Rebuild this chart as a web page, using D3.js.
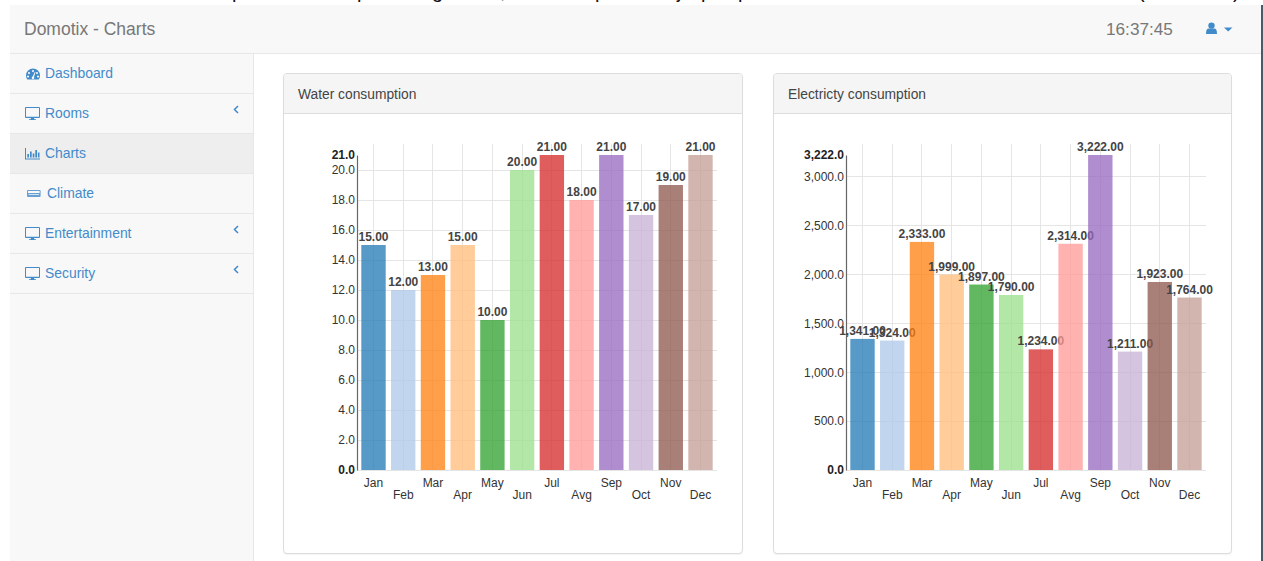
<!DOCTYPE html>
<html>
<head>
<meta charset="utf-8">
<title>Domotix - Charts</title>
<script src="https://cdn.jsdelivr.net/npm/d3@7/dist/d3.min.js"></script>
<style>
  html, body { margin: 0; padding: 0; background: #fff; width: 1263px; height: 561px; overflow: hidden;
    font-family: "Liberation Sans", Arial, sans-serif; font-size: 14px; color: #333; }
  .abs { position: absolute; box-sizing: border-box; }
  #headline { left: 0; top: 0; width: 1261px; height: 5px; overflow: hidden; }
  #headline span { position: absolute; top: -20px; font-size: 20px; line-height: 23px; color: #111; }
  #edge { left: 1261px; top: 5px; width: 2px; height: 556px; background: #4a5a68; }
  #navbar { left: 10px; top: 5px; width: 1251px; height: 49px; background: #f8f8f8; border-bottom: 1px solid #e7e7e7; }
  #brand { left: 24px; top: 19px; font-size: 17.5px; line-height: 20px; color: #777; }
  #clock { left: 1106px; top: 19px; font-size: 17.2px; line-height: 20px; color: #777; }
  #sidebar { left: 10px; top: 54px; width: 244px; height: 507px; background: #f8f8f8; border-right: 1px solid #e7e7e7; }
  .item { left: 10px; width: 243px; height: 40px; border-bottom: 1px solid #e7e7e7; }
  .item.active { background: #eee; }
  .label { position: absolute; top: 11px; line-height: 17px; color: #428bca; font-size: 13.9px; }
  .panel { top: 73px; height: 481px; background: #fff; border: 1px solid #ddd; border-radius: 4px; box-shadow: 0 1px 1px rgba(0,0,0,.05); }
  .panel h3 { margin: 0; height: 40px; background: #f5f5f5; border-bottom: 1px solid #ddd; border-radius: 3px 3px 0 0;
    font-weight: normal; font-size: 13.8px; line-height: 41px; padding-left: 14px; color: #444; box-sizing: border-box; }
  svg.icon { position: absolute; fill: #428bca; stroke: none; overflow: visible; }
  #charts { left: 0; top: 0; }
  .tick text { font-family: "Liberation Sans", Arial, sans-serif; font-size: 12px; fill: #333; }
  .grid line { stroke: #e5e5e5; stroke-width: 1; shape-rendering: crispEdges; }
  .value { font: bold 12px "Liberation Sans", Arial, sans-serif; fill: #444; text-anchor: middle; }
</style>
</head>
<body>
<div class="abs" id="headline">
  <span style="left:232px">p</span><span style="left:357px">p</span><span style="left:432px">g</span>
  <span style="left:500px">,</span><span style="left:595px">p</span><span style="left:677px">j</span>
  <span style="left:701px">p</span><span style="left:738px">p</span><span style="left:1138px">(</span>
  <span style="left:1233px">)</span>
</div>
<div class="abs" id="edge"></div>
<div class="abs" id="navbar"></div>
<div class="abs" id="brand">Domotix - Charts</div>
<div class="abs" id="clock">16:37:45</div>
<svg class="icon" style="left:1206px;top:22px" width="28" height="14">
  <circle cx="5.5" cy="3.6" r="3.2"/><path d="M0 12 Q0 6.4 3 6.6 L8 6.6 Q11 6.4 11 12 L0 12Z"/>
  <path d="M18 5.5 L26.5 5.5 L22.2 9.5Z"/>
</svg>
<div class="abs" id="sidebar"></div>
<div id="menu"></div>

<div class="abs panel" style="left:283px;width:460px"><h3>Water consumption</h3></div>
<div class="abs panel" style="left:773px;width:459px"><h3 style="padding-left:14px">Electricty consumption</h3></div>
<svg class="abs" id="charts" width="1263" height="561"></svg>

<script>
// Monthly readings shown in the two panels
const months = ["Jan", "Feb", "Mar", "Apr", "May", "Jun", "Jul", "Avg", "Sep", "Oct", "Nov", "Dec"];
const waterValues = [15, 12, 13, 15, 10, 20, 21, 18, 21, 17, 19, 21];
const electricityValues = [1341, 1324, 2333, 1999, 1897, 1790, 1234, 2314, 3222, 1211, 1923, 1764];
const waterTicks = [0, 2, 4, 6, 8, 10, 12, 14, 16, 18, 20, 21];
const electricityTicks = [0, 500, 1000, 1500, 2000, 2500, 3000, 3222];
const barColors = ["#1f77b4", "#aec7e8", "#ff7f0e", "#ffbb78", "#2ca02c", "#98df8a",
                   "#d62728", "#ff9896", "#9467bd", "#c5b0d5", "#8c564b", "#c49c94"];

// Sidebar menu
const menuItems = [
  { name: "Dashboard", icon: "gauge", top: 54, x: 45 },
  { name: "Rooms", icon: "desktop", top: 94, x: 45, sub: true },
  { name: "Charts", icon: "bars", top: 134, x: 45, active: true },
  { name: "Climate", icon: "unit", top: 174, x: 47 },
  { name: "Entertainment", icon: "desktop", top: 214, x: 45, sub: true },
  { name: "Security", icon: "desktop", top: 254, x: 45, sub: true }
];
const icons = {
  gauge: `<path fill-rule="evenodd" d="M7 0.5 A7 7 0 0 1 14 7.5 Q14 10 12.6 11.5 L1.4 11.5 Q0 10 0 7.5 A7 7 0 0 1 7 0.5Z M7 2 a1 1 0 1 0 .01 0Z M3 4 a1 1 0 1 0 .01 0Z M11 4 a1 1 0 1 0 .01 0Z M2 7.4 a1 1 0 1 0 .01 0Z M12 7.4 a1 1 0 1 0 .01 0Z M6 9 a1.3 1.3 0 1 0 2 0 L9.5 4.2 L8.8 4 L6.8 8.3Z"/>`,
  desktop: `<path fill-rule="evenodd" d="M1 0 H14 Q15 0 15 1 V10 Q15 11 14 11 H9 L9.4 12.2 H11 V13 H4 V12.2 H5.6 L6 11 H1 Q0 11 0 10 V1 Q0 0 1 0Z M1 1 V9.8 H14 V1Z"/>`,
  bars: `<path d="M0 0 H1 V10.4 H15 V11.4 H0Z M2.3 6 H4 V9.6 H2.3Z M5 3.6 H6.7 V9.6 H5Z M7.7 5.4 H9.4 V9.6 H7.7Z M10.3 2 H12 V9.6 H10.3Z M12.9 4.4 H14.5 V9.6 H12.9Z"/>`,
  unit: `<path fill-rule="evenodd" opacity="0.8" d="M1 0 H12.6 Q13.6 0 13.6 1 V6 Q13.6 7 12.6 7 H1 Q0 7 0 6 V1 Q0 0 1 0Z M1 1 V3 H12.6 V1Z M1.6 4.2 V5 H12 V4.2Z"/>`
};
const iconTop = { gauge: 14, desktop: 13, bars: 14, unit: 16 };
const iconLeft = { gauge: 26, desktop: 25, bars: 25, unit: 27 };

const menu = d3.select("#menu");
menuItems.forEach(item => {
  const row = menu.append("div")
    .attr("class", "abs item" + (item.active ? " active" : ""))
    .style("top", item.top + "px");
  row.append("span").attr("class", "label")
    .style("left", (item.x - 10) + "px").style("top", "11px").text(item.name);
  row.append("svg").attr("class", "icon")
    .attr("width", 16).attr("height", 14)
    .style("left", (iconLeft[item.icon] - 10) + "px")
    .style("top", iconTop[item.icon] + "px")
    .html(icons[item.icon]);
  if (item.sub) {
    row.append("svg").attr("class", "icon")
      .attr("width", 8).attr("height", 10)
      .style("left", "223px").style("top", "11px")
      .html(`<path d="M5 1 L1.5 4.5 L5 8" fill="none" stroke="#428bca" stroke-width="1.5"/>`);
  }
});

// Discrete bar chart, one per panel
function drawBars(left, values, tickValues) {
  const top = 155, bottom = 470, gridTop = 144, width = 360;
  const svg = d3.select("#charts");
  const x = d3.scaleBand().domain(months).range([left, left + width]).paddingInner(0.18).paddingOuter(0.145);
  const y = d3.scaleLinear().domain([0, d3.max(values)]).range([bottom, top]);
  const fmtTick = d3.format(",.1f"), fmtValue = d3.format(",.2f");
  const g = svg.append("g");

  // Grid
  const grid = g.append("g").attr("class", "grid");
  grid.selectAll(".h").data(tickValues.filter(t => t !== y.domain()[1])).join("line")
    .attr("x1", left).attr("x2", left + width)
    .attr("y1", d => y(d)).attr("y2", d => y(d));
  grid.selectAll(".v").data(months).join("line")
    .attr("x1", d => x(d) + x.bandwidth() / 2).attr("x2", d => x(d) + x.bandwidth() / 2)
    .attr("y1", gridTop).attr("y2", bottom);

  // Y axis
  const yAxis = g.append("g").attr("transform", `translate(${left},0)`)
    .call(d3.axisLeft(y).tickValues(tickValues).tickFormat(fmtTick).tickSize(0).tickPadding(2));
  yAxis.select(".domain").attr("stroke", "#666").attr("stroke-width", 1.2);
  yAxis.selectAll(".tick text")
    .style("font-weight", d => (d === 0 || d === y.domain()[1]) ? "bold" : "normal")
    .style("fill", d => (d === 0 || d === y.domain()[1]) ? "#222" : "#333");

  // X axis, labels staggered over two rows
  const xAxis = g.append("g").attr("transform", `translate(0,${bottom})`)
    .call(d3.axisBottom(x).tickSize(0).tickPadding(8));
  xAxis.select(".domain").remove();
  xAxis.selectAll(".tick text").attr("dy", (d, i) => i % 2 ? "1.71em" : "0.71em");

  // Bars and their value labels, painted month by month
  const bar = g.selectAll(".bar").data(months).join("g").attr("class", "bar");
  bar.append("rect")
    .attr("x", d => x(d)).attr("width", x.bandwidth())
    .attr("y", (d, i) => y(values[i]))
    .attr("height", (d, i) => bottom - y(values[i]))
    .attr("fill", (d, i) => barColors[i])
    .attr("fill-opacity", 0.75);
  bar.append("text").attr("class", "value")
    .attr("x", d => x(d) + x.bandwidth() / 2)
    .attr("y", (d, i) => y(values[i]) - 4)
    .text((d, i) => fmtValue(values[i]));
}

drawBars(357, waterValues, waterTicks);
drawBars(846, electricityValues, electricityTicks);
</script>
</body>
</html>
